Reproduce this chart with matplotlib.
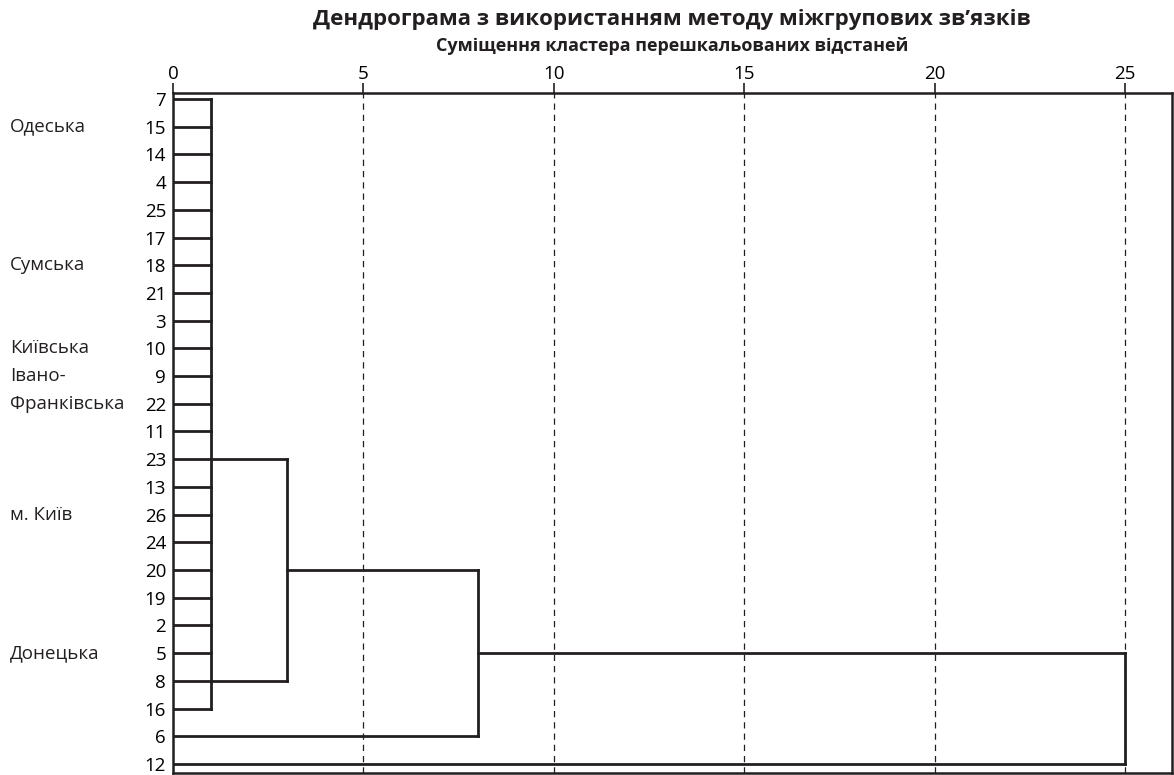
import matplotlib
matplotlib.use("Agg")
import matplotlib.pyplot as plt

plt.rcParams['font.family'] = ['Open Sans', 'DejaVu Sans']

# ---- data ----
leaves = ["7", "15", "14", "4", "25", "17", "18", "21", "3", "10", "9", "22",
          "11", "23", "13", "26", "24", "20", "19", "2", "5", "8", "16", "6", "12"]
# first-level cluster: these leaves merge at distance 1
cluster1_leaves = leaves[:23]
cluster1_height = 1
# further merges: (leaf row A, start A, leaf row B, start B, height, output row leaf)
merges = [
    ("23", 1, "8", 1, 3, "20"),
    ("20", 3, "6", 0, 8, "5"),
    ("5", 8, "12", 0, 25, None),
]
xticks = [0, 5, 10, 15, 20, 25]
region_names = ["Одеська", "Сумська", "Київська", "Івано-", "Франківська", "м. Київ", "Донецька"]
region_rows = ["15", "18", "10", "9", "22", "26", "5"]

title = "Дендрограма з використанням методу міжгрупових зв’язків"
subtitle = "Суміщення кластера перешкальованих відстаней"

# ---- figure ----
W, H = 1174, 775
fig = plt.figure(figsize=(W / 100, H / 100), dpi=100)
ax = fig.add_axes([173 / W, 1 - 773 / H, (1172 - 173) / W, (773 - 93) / H])

row = {lab: i for i, lab in enumerate(leaves)}
lw = 2.0
col = "#231f20"

# first-level cluster
for lab in cluster1_leaves:
    ax.plot([0, cluster1_height], [row[lab], row[lab]], color=col, lw=lw, solid_capstyle='projecting')
ax.plot([cluster1_height, cluster1_height], [row[cluster1_leaves[0]], row[cluster1_leaves[-1]]],
        color=col, lw=lw, solid_capstyle='projecting')

for a, xa, b, xb, h, _ in merges:
    ax.plot([xa, h], [row[a], row[a]], color=col, lw=lw, solid_capstyle='projecting')
    ax.plot([xb, h], [row[b], row[b]], color=col, lw=lw, solid_capstyle='projecting')
    ax.plot([h, h], [row[a], row[b]], color=col, lw=lw, solid_capstyle='projecting')

# dashed guides
for t in xticks[1:]:
    ax.axvline(t, color=col, lw=0.9, ls=(0, (5, 4)), zorder=0)

ax.set_xlim(0, (1172 - 173) / 38.08)
ax.set_ylim(24 + 9 / 27.7, -6 / 27.7)

ax.xaxis.tick_top()
ax.set_xticks(xticks)
ax.set_xticklabels([str(t) for t in xticks], fontsize=13.5)
ax.tick_params(axis='x', direction='out', length=7, width=1.2, color=col, pad=0)
ax.set_yticks(range(len(leaves)))
ax.set_yticklabels(leaves, fontsize=13.5)
ax.tick_params(axis='y', length=0, pad=5)
for sp in ax.spines.values():
    sp.set_linewidth(1.8)
    sp.set_color(col)

for name, lab in zip(region_names, region_rows):
    y = row[lab]
    ax.text(-163 / 38.08, y, name, ha='left', va='center', fontsize=13.5, color=col)

fig.text(672 / W, 1 - 20 / H, title, ha='center', va='center', fontsize=16, fontweight='bold', color=col)
fig.text(672 / W, 1 - 46 / H, subtitle, ha='center', va='center', fontsize=13, fontweight='bold', color=col)

fig.savefig("out.png", dpi=100)
